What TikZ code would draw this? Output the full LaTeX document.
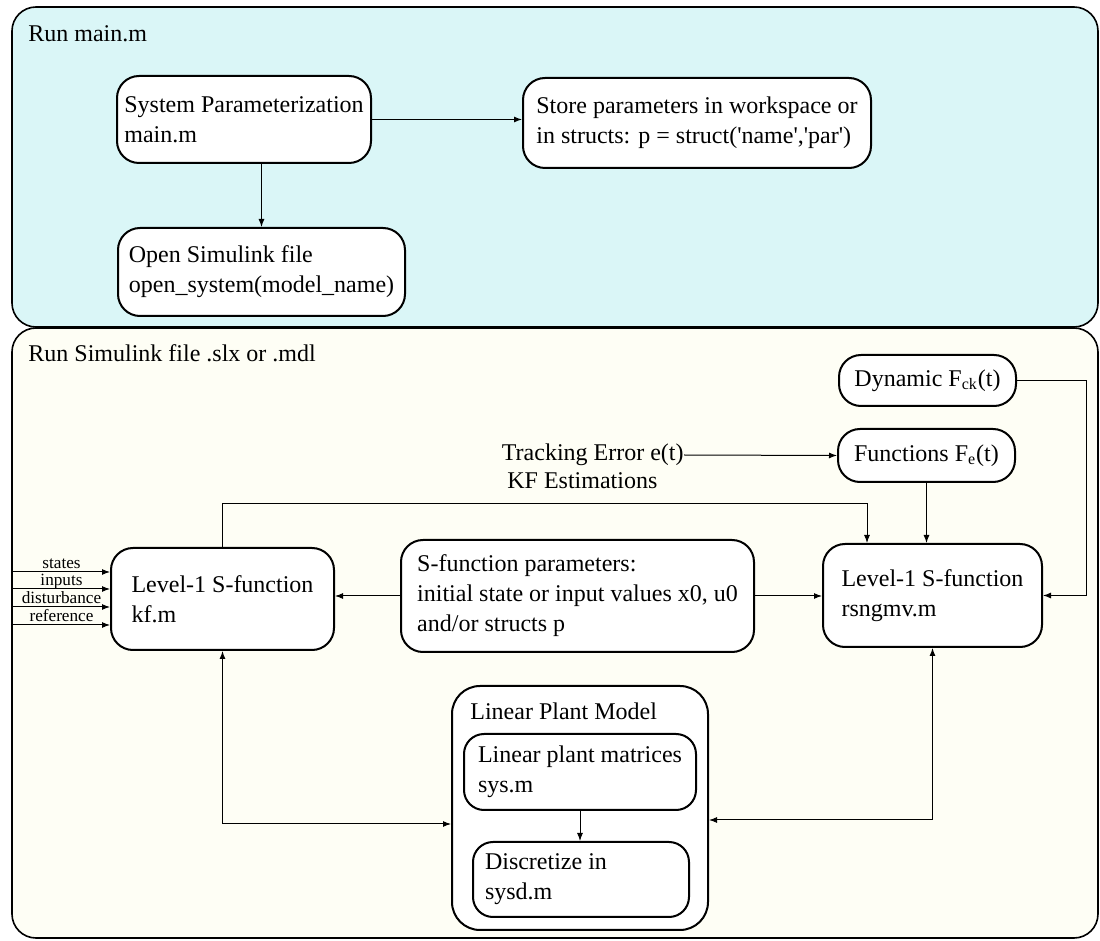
\documentclass[tikz,border=0pt]{standalone}
\usepackage{fontspec}
\setmainfont{Liberation Serif}
\usepackage{tikz}
\usetikzlibrary{arrows.meta, calc}
\definecolor{mainbg}{RGB}{218,246,247}
\definecolor{simbg}{RGB}{254,254,245}
\tikzstyle{frame} = [draw=black, line width=0.8pt, rounded corners=12pt]
\tikzstyle{block} = [rectangle, rounded corners=11pt, draw=black, line width=1pt, fill=white, align=left, inner sep=0pt]
\tikzstyle{title} = [anchor=base west, inner sep=0pt]
\tikzstyle{arrow} = [line width=0.5pt, -{Latex[length=4pt,width=3pt]}]
\tikzstyle{biarrow} = [line width=0.5pt, {Latex[length=4pt,width=3pt]}-{Latex[length=4pt,width=3pt]}]
\tikzstyle{inlabel} = [font=\fontsize{8.6}{9}\selectfont, anchor=base, inner sep=0pt, yshift=1.8pt]

\begin{document}
\begin{tikzpicture}[x=0.5pt, y=-0.5pt, font=\fontsize{12}{15}\selectfont]
\useasboundingbox (0,0) rectangle (1100,941);

% the two stages
\draw [frame, fill=mainbg] (12,7) rectangle (1098,327);
\draw [frame, fill=simbg] (12,328) rectangle (1098,938);
\node (runmain) [title] at (28,42) {Run main.m};
\node (runsim) [title] at (28,362) {Run Simulink file .slx or .mdl};

% main.m
\node (sp) [block, minimum width=127pt, minimum height=43.5pt] at (244,119.5) {System Parameterization\\main.m};
\node (st) [block, minimum width=174pt, minimum height=45pt] at (697,123) {Store parameters in workspace or\\in structs: p = struct(\textquotesingle name\textquotesingle,\textquotesingle par\textquotesingle)};
\node (op) [block, minimum width=143.5pt, minimum height=44pt] at (261.5,272) {Open Simulink file\\open\_system(model\_name)};

\draw [arrow] (sp.east) -- (sp.east -| st.west);
\draw [arrow] (op.north |- sp.south) -- (op.north);

% simulink model
\node (dyn) [block, minimum width=88.5pt, minimum height=25.5pt] at (927.5,380.5) {Dynamic F\textsubscript{ck}(t)};
\node (func) [block, minimum width=88.5pt, minimum height=26.5pt] at (926.5,455.5) {Functions F\textsubscript{e}(t)};
\node (track) [anchor=east, inner sep=0pt] at (684,455) {Tracking Error e(t)};
\node (kfest) [title] at (507,489) {KF Estimations};
\node (kf) [block, minimum width=111.5pt, minimum height=51pt] at (222.5,599) {Level-1 S-function\\kf.m};
\node (spar) [block, minimum width=176.5pt, minimum height=56pt] at (577.5,596) {S-function parameters:\\initial state or input values x0, u0\\and/or structs p};
\node (rsn) [block, minimum width=109.5pt, minimum height=51.5pt] at (932.5,595.5) {Level-1 S-function\\rsngmv.m};

\node (plant) [block, minimum width=128pt, minimum height=122pt, rounded corners=14pt] at (580,808) {};
\node (plantlbl) [title] at (470,720) {Linear Plant Model};
\node (mat) [block, minimum width=116pt, minimum height=38pt, rounded corners=10pt] at (580,772) {Linear plant matrices\\sys.m};
\node (disc) [block, align=flush left, text width=96pt, inner xsep=6pt, minimum height=37.5pt, rounded corners=10pt] at (581,879.5) {Discretize in\\sysd.m};

\coordinate (kfturn) at (867,504);

\foreach \lbl/\dy [count=\i] in {states/-27, inputs/-10, disturbance/8, reference/26} {
  \coordinate (in\i) at ($(kf.west)+(-97,\dy)$);
  \draw [arrow] (in\i) -- node [inlabel] {\lbl} (in\i -| kf.west);
}

\draw [arrow] (track.east) -- (func.west);
\draw [arrow] (func.south) -- (func.south |- rsn.north);
\draw [arrow] (dyn.east) -- ++(69,0) |- (rsn.east);
\draw [arrow] (kf.north) |- (kfturn) -- (kfturn |- rsn.north);
\draw [arrow] (spar.west) -- (spar.west -| kf.east);
\draw [arrow] (spar.east) -- (spar.east -| rsn.west);
\draw [biarrow] (kf.south) |- ($(plant.west)+(0,16)$);
\draw [biarrow] (rsn.south) |- ($(plant.east)+(0,12)$);
\draw [arrow] (mat.south) -- (mat.south |- disc.north);
\end{tikzpicture}
\end{document}
